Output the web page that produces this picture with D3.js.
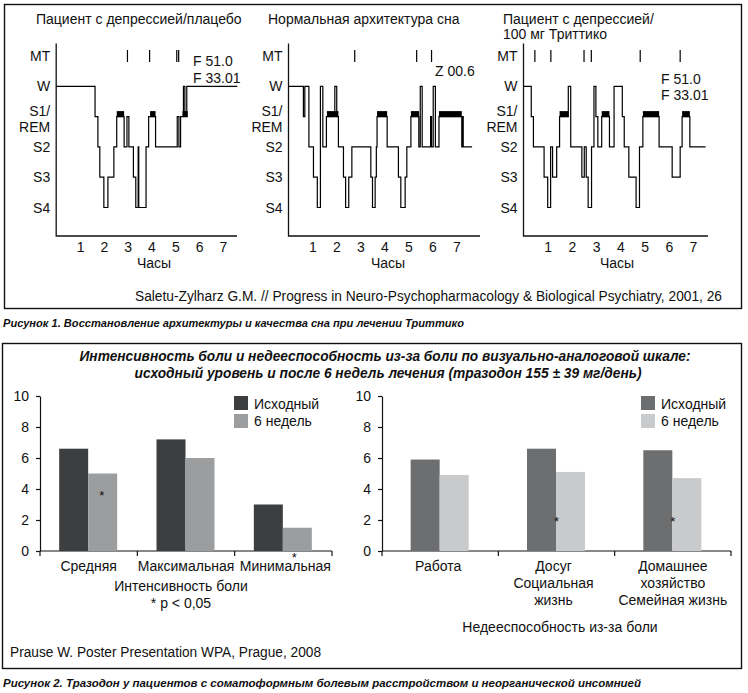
<!DOCTYPE html>
<html>
<head>
<meta charset="utf-8">
<script src="https://cdn.jsdelivr.net/npm/d3@7"></script>
<style>
body { margin: 0; background: #fff; }
svg { display: block; font-family: "Liberation Sans", Arial, sans-serif; }
</style>
</head>
<body>
<script>
// --- hypnogram data (hours, stage) ---
var stages = ["MT", "W", "S1", "S2", "S3", "S4"];
var stageLabels = [["MT"], ["W"], ["S1/", "REM"], ["S2"], ["S3"], ["S4"]];
var hourTicks = [1, 2, 3, 4, 5, 6, 7];

var placeboSteps = [[0,"W"],[1.63,"S1"],[1.75,"S2"],[1.83,"S3"],[2.0,"S4"],[2.17,"S3"],[2.42,"S2"],
    [2.54,"S1"],[2.85,"S2"],[2.97,"S1"],[3.05,"S2"],[3.24,"S3"],[3.34,"S4"],[3.44,"S2"],[3.465,"S4"],
    [3.77,"S2"],[3.88,"S1"],[4.17,"S2"],[5.08,"S1"],[5.15,"S2"],[5.22,"S1"],
    [5.34,"W"],[5.4,"S1"],[5.48,"W"],[7.6,"W"]];
var placeboRem = [[2.54,2.85],[3.94,4.17],[5.3,5.52]];
var placeboMt = [2.99, 3.92, 5.06, 5.14];

var normalSteps = [[0,"W"],[0.62,"S1"],[0.68,"W"],[0.85,"S2"],[1.04,"S3"],[1.2,"S4"],[1.33,"W"],
    [1.43,"S2"],[1.58,"S1"],[1.93,"W"],[2.01,"S1"],[2.08,"S2"],[2.29,"S3"],[2.38,"S4"],[2.51,"S3"],
    [2.64,"S2"],[3.43,"S3"],[3.5,"S4"],[3.61,"S3"],[3.66,"S2"],[3.69,"S1"],[4.11,"S2"],[4.58,"S3"],
    [4.68,"S4"],[4.86,"S3"],[4.93,"S2"],[5.1,"S1"],[5.43,"S2"],[5.49,"W"],[5.57,"S2"],[5.92,"S1"],
    [5.96,"S2"],[6.03,"W"],[6.12,"S2"],[6.27,"S1"],[7.22,"S2"],[7.25,"S1"],[7.28,"S2"],[7.65,"S2"]];
var normalRem = [[1.6,2.08],[3.69,4.11],[5.1,5.44],[6.27,7.22]];
var normalMt = [2.76, 5.34, 5.96];

var trittSteps = [[0,"W"],[0.32,"S1"],[0.41,"S2"],[0.85,"S3"],[1.0,"S4"],[1.12,"S2"],[1.2,"S3"],
    [1.37,"S2"],[1.49,"S1"],[1.85,"W"],[1.95,"S2"],[2.41,"S3"],[2.51,"S2"],[2.59,"S3"],[2.67,"S4"],
    [2.81,"S2"],[2.91,"W"],[2.99,"S1"],[3.07,"S2"],[3.23,"S1"],[3.55,"S2"],[3.74,"W"],[4.08,"S1"],
    [4.16,"S2"],[4.35,"S3"],[4.65,"S4"],[4.79,"S2"],[4.93,"S1"],[5.6,"S2"],[6.14,"S3"],[6.47,"S2"],
    [6.55,"S1"],[6.87,"S2"],[7.52,"S2"]];
var trittRem = [[1.49,1.85],[3.23,3.55],[4.93,5.6],[6.55,6.87]];
var trittMt = [0.47, 1.13, 2.5, 2.8, 4.82, 6.47];

// --- bar chart data ---
var seriesNames = ["Исходный", "6 недель"];
var yTicks = [0, 2, 4, 6, 8, 10];
var painCats = ["Средняя", "Максимальная", "Минимальная"];
var painBase = [6.6, 7.2, 3.0];
var painWeek6 = [5.0, 6.0, 1.5];
var disCats = ["Работа", "Досуг", "Домашнее"];
var disLabels = [["Работа"], ["Досуг", "Социальная", "жизнь"], ["Домашнее", "хозяйство", "Семейная жизнь"]];
var disBase = [5.9, 6.6, 6.5];
var disWeek6 = [4.9, 5.1, 4.7];

var svg = d3.select("body").append("svg")
    .attr("width", 748)
    .attr("height", 693);

svg.append("rect")
    .attr("x", 4.5).attr("y", 4.5).attr("width", 737).attr("height", 304)
    .attr("fill", "none").attr("stroke", "#111").attr("stroke-width", 1.4);
svg.append("rect")
    .attr("x", 2.5).attr("y", 343.5).attr("width", 739).attr("height", 325)
    .attr("fill", "none").attr("stroke", "#111").attr("stroke-width", 1.4);

var yStage = d3.scalePoint().domain(stages).range([56, 207.5]);

function hypnogram(p) {
    var g = svg.append("g");
    var x = d3.scaleLinear().domain([0, 7]).range([p.x0, p.x7]);

    p.title.forEach(function(t, i) {
        g.append("text").attr("x", p.titleX).attr("y", 23.5 + i * 15.5)
            .attr("font-size", 14).attr("fill", "#111").text(t);
    });

    stageLabels.forEach(function(lines, i) {
        var cy = yStage(stages[i]);
        lines.forEach(function(l, j) {
            var yy = lines.length > 1 ? cy - 0.5 + j * 16 : cy + 5;
            g.append("text").attr("x", p.x0 - 6).attr("y", yy)
                .attr("text-anchor", "end").attr("font-size", 14).attr("fill", "#111").text(l);
        });
    });

    g.append("path")
        .attr("d", "M" + p.x0 + ",43.5V236H" + p.xEnd)
        .attr("fill", "none").attr("stroke", "#111").attr("stroke-width", 1.3);

    g.append("g").attr("transform", "translate(0,236)")
        .call(d3.axisBottom(x).tickValues(hourTicks).tickSize(0).tickPadding(6).tickFormat(d3.format("d")))
        .call(function(a) { a.select(".domain").remove(); })
        .attr("font-size", 14).attr("font-family", null)
        .selectAll("text").attr("fill", "#111");

    g.append("text").attr("x", p.xLab).attr("y", 268).attr("text-anchor", "middle")
        .attr("font-size", 14).attr("fill", "#111").text("Часы");

    g.selectAll(".rem").data(p.rem).enter().append("rect")
        .attr("x", function(d) { return x(d[0]); })
        .attr("width", function(d) { return x(d[1]) - x(d[0]); })
        .attr("y", yStage("S1") - 5.5)
        .attr("height", 6)
        .attr("fill", "#000");

    var line = d3.line()
        .x(function(d) { return x(d[0]); })
        .y(function(d) { return yStage(d[1]); })
        .curve(d3.curveStepAfter);
    g.append("path").datum(p.steps)
        .attr("d", line)
        .attr("fill", "none").attr("stroke", "#000").attr("stroke-width", 1.2);

    g.selectAll(".mt").data(p.mt).enter().append("line")
        .attr("x1", function(d) { return x(d); }).attr("x2", function(d) { return x(d); })
        .attr("y1", 50).attr("y2", 62)
        .attr("stroke", "#000").attr("stroke-width", 1.2);

    p.notes.forEach(function(t, i) {
        g.append("text").attr("x", p.noteX).attr("y", p.noteY + i * 16.5)
            .attr("font-size", 14).attr("fill", "#111").text(t);
    });
}

hypnogram({title: ["Пациент с депрессией/плацебо"], titleX: 36, x0: 56.2, x7: 223, xEnd: 237, xLab: 154,
    steps: placeboSteps, rem: placeboRem, mt: placeboMt, notes: ["F 51.0", "F 33.01"], noteX: 193, noteY: 66});
hypnogram({title: ["Нормальная архитектура сна"], titleX: 268, x0: 288.5, x7: 456.5, xEnd: 480, xLab: 388,
    steps: normalSteps, rem: normalRem, mt: normalMt, notes: ["Z 00.6"], noteX: 435, noteY: 76});
hypnogram({title: ["Пациент с депрессией/", "100 мг Триттико"], titleX: 503, x0: 523.5, x7: 693, xEnd: 708, xLab: 617,
    steps: trittSteps, rem: trittRem, mt: trittMt, notes: ["F 51.0", "F 33.01"], noteX: 661, noteY: 83.5});

svg.append("text").attr("x", 135).attr("y", 301)
    .attr("font-size", 14).attr("fill", "#111")
    .attr("textLength", 587).attr("lengthAdjust", "spacingAndGlyphs")
    .text("Saletu-Zylharz G.M. // Progress in Neuro-Psychopharmacology & Biological Psychiatry, 2001, 26");

svg.append("text").attr("x", 3).attr("y", 327)
    .attr("font-size", 11.5).attr("font-weight", "bold").attr("font-style", "italic").attr("fill", "#111")
    .attr("textLength", 461).attr("lengthAdjust", "spacingAndGlyphs")
    .text("Рисунок 1. Восстановление архитектуры и качества сна при лечении Триттико");

// --- bar charts ---
svg.append("text").attr("x", 385).attr("y", 361).attr("text-anchor", "middle")
    .attr("font-size", 14).attr("font-weight", "bold").attr("font-style", "italic").attr("fill", "#111")
    .attr("textLength", 611).attr("lengthAdjust", "spacingAndGlyphs")
    .text("Интенсивность боли и недееспособность из-за боли по визуально-аналоговой шкале:");
svg.append("text").attr("x", 388).attr("y", 378).attr("text-anchor", "middle")
    .attr("font-size", 14).attr("font-weight", "bold").attr("font-style", "italic").attr("fill", "#111")
    .attr("textLength", 507).attr("lengthAdjust", "spacingAndGlyphs")
    .text("исходный уровень и после 6 недель лечения (тразодон 155 ± 39 мг/день)");

var y = d3.scaleLinear().domain([0, 10]).range([551, 396]);

function barChart(o) {
    var g = svg.append("g");
    var x = d3.scaleBand().domain(o.cats).range([o.x0, o.x1]);
    var xs = d3.scaleBand().domain([0, 1]).range([-29.5, 28.5]);

    g.append("g").attr("transform", "translate(" + o.x0 + ",0)")
        .call(d3.axisLeft(y).tickValues(yTicks).tickSize(4).tickSizeOuter(0).tickPadding(7))
        .attr("font-size", 14).attr("font-family", null)
        .call(function(a) {
            a.selectAll("text").attr("fill", "#111");
            a.selectAll("line,path").attr("stroke", "#111").attr("stroke-width", 1.2);
        });

    g.append("line").attr("x1", o.x0).attr("x2", o.x1).attr("y1", 551).attr("y2", 551)
        .attr("stroke", "#111").attr("stroke-width", 1.2);
    g.selectAll(".bt").data(d3.range(o.cats.length + 1)).enter().append("line")
        .attr("x1", function(i) { return o.x0 + i * x.bandwidth(); })
        .attr("x2", function(i) { return o.x0 + i * x.bandwidth(); })
        .attr("y1", 551).attr("y2", 556)
        .attr("stroke", "#111").attr("stroke-width", 1.2);

    var vals = [o.base, o.week6];
    vals.forEach(function(arr, s) {
        g.selectAll(".b" + s).data(arr).enter().append("rect")
            .attr("x", function(d, i) { return x(o.cats[i]) + x.bandwidth() / 2 + xs(s); })
            .attr("width", xs.bandwidth())
            .attr("y", function(d) { return y(d); })
            .attr("height", function(d) { return y(0) - y(d); })
            .attr("fill", o.colors[s]);
    });

    o.labels.forEach(function(lines, i) {
        lines.forEach(function(l, j) {
            g.append("text").attr("x", x(o.cats[i]) + x.bandwidth() / 2 + (o.labelDx ? o.labelDx[i] : 0))
                .attr("y", 571 + j * 17).attr("text-anchor", "middle")
                .attr("font-size", 14).attr("fill", "#111").text(l);
        });
    });

    seriesNames.forEach(function(n, s) {
        g.append("rect").attr("x", o.legX).attr("y", 396 + s * 18).attr("width", 14).attr("height", 14)
            .attr("fill", o.colors[s]);
        g.append("text").attr("x", o.legX + 20).attr("y", 409 + s * 17)
            .attr("font-size", 14).attr("fill", "#111").text(n);
    });

    o.stars.forEach(function(st) {
        g.append("text")
            .attr("x", x(st[0]) + x.bandwidth() / 2 + st[1])
            .attr("y", st[2]).attr("text-anchor", "middle")
            .attr("font-size", 13).attr("fill", "#111").text("*");
    });
    return x;
}

barChart({cats: painCats, labels: painCats.map(function(c) { return [c]; }), labelDx: [0, 0, 2],
    base: painBase, week6: painWeek6, x0: 40, x1: 332,
    colors: ["#3c3e40", "#9b9d9f"], legX: 234,
    stars: [["Средняя", 13, 500], ["Минимальная", 11, 562]]});

barChart({cats: disCats, labels: disLabels, labelDx: [-2, -3, 0],
    base: disBase, week6: disWeek6, x0: 382, x1: 731,
    colors: ["#6c6e70", "#c9cacc"], legX: 641,
    stars: [["Досуг", 0, 526], ["Домашнее", 0, 526]]});

svg.append("text").attr("x", 181).attr("y", 591).attr("text-anchor", "middle")
    .attr("font-size", 14).attr("fill", "#111").text("Интенсивность боли");
svg.append("text").attr("x", 181).attr("y", 608).attr("text-anchor", "middle")
    .attr("font-size", 14).attr("fill", "#111").text("* p < 0,05");
svg.append("text").attr("x", 560).attr("y", 632).attr("text-anchor", "middle")
    .attr("font-size", 14).attr("fill", "#111").text("Недееспособность из-за боли");

svg.append("text").attr("x", 10).attr("y", 657)
    .attr("font-size", 14).attr("fill", "#111")
    .attr("textLength", 311).attr("lengthAdjust", "spacingAndGlyphs")
    .text("Prause W. Poster Presentation WPA, Prague, 2008");

svg.append("text").attr("x", 3).attr("y", 687)
    .attr("font-size", 11.5).attr("font-weight", "bold").attr("font-style", "italic").attr("fill", "#111")
    .attr("textLength", 638).attr("lengthAdjust", "spacingAndGlyphs")
    .text("Рисунок 2. Тразодон у пациентов с соматоформным болевым расстройством и неорганической инсомнией");
</script>
</body>
</html>
